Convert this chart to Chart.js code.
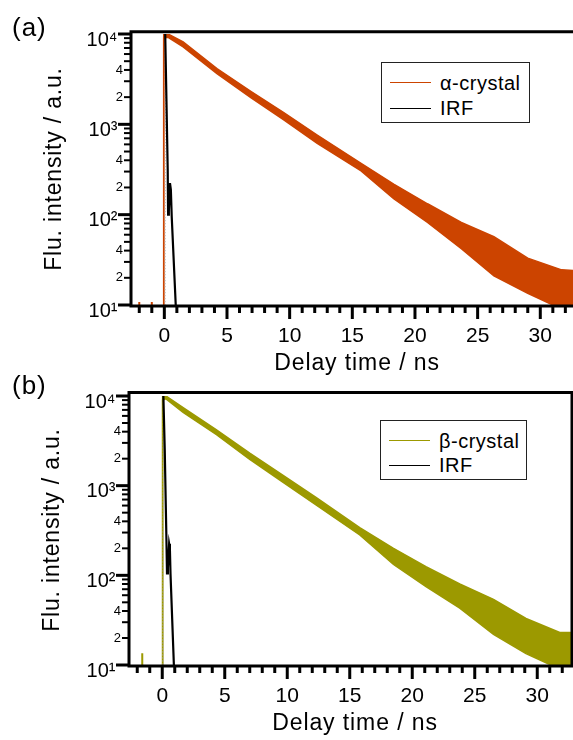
<!DOCTYPE html>
<html>
<head>
<meta charset="utf-8">
<script src="https://cdn.jsdelivr.net/npm/chart.js@4.4.0/dist/chart.umd.min.js"></script>
<style>
  body { margin: 0; background: #fff; }
  #wrap { position: relative; width: 573px; height: 740px; overflow: hidden;
          font-family: 'Liberation Sans', Arial, sans-serif; color: #000; }
  canvas { position: absolute; left: 0; }
  .txt { position: absolute; white-space: nowrap; line-height: 1; }
  .ytitle { font-size: 23px; letter-spacing: 0.8px; transform: translate(-50%, -50%) rotate(-90deg); }
  .xtitle { font-size: 23px; letter-spacing: 0.9px; transform: translateX(-50%); }
  .panel { font-size: 26px; letter-spacing: 1px; }
  .legend { position: absolute; box-sizing: border-box; border: 1px solid #222; background: #fff; }
  .legend .ln { position: absolute; left: 8px; width: 41px; height: 1.3px; }
  .legend .lt { position: absolute; left: 58px; font-size: 20px; letter-spacing: 0.5px; line-height: 20px; }
</style>
</head>
<body>
<div id="wrap">
  <canvas id="chartA" width="573" height="360" style="top:0px"></canvas>
  <canvas id="chartB" width="573" height="360" style="top:360px"></canvas>

  <div class="txt panel" style="left:12px; top:14px;">(a)</div>
  <div class="txt panel" style="left:12px; top:372px;">(b)</div>

  <div class="txt ytitle" style="left:53px; top:169px;">Flu. intensity / a.u.</div>
  <div class="txt ytitle" style="left:51px; top:530px;">Flu. intensity / a.u.</div>

  <div class="txt xtitle" style="left:357px; top:351px;">Delay time / ns</div>
  <div class="txt xtitle" style="left:355px; top:711px;">Delay time / ns</div>

  <div class="legend" style="left:381px; top:62px; width:149px; height:61px;">
    <div class="ln" style="top:19px; background:#cc4400;"></div>
    <div class="lt" style="top:10px;">&alpha;-crystal</div>
    <div class="ln" style="top:45px; background:#000;"></div>
    <div class="lt" style="top:35px;">IRF</div>
  </div>
  <div class="legend" style="left:380px; top:420px; width:147px; height:60px;">
    <div class="ln" style="top:19px; background:#9c9900;"></div>
    <div class="lt" style="top:10px;">&beta;-crystal</div>
    <div class="ln" style="top:44px; background:#000;"></div>
    <div class="lt" style="top:34px;">IRF</div>
  </div>
</div>

<script>
// axis ticks
const xTickValues = [-2, -1, 0, 1, 2, 3, 4, 5, 6, 7, 8, 9, 10, 11, 12, 13, 14, 15, 16,
                     17, 18, 19, 20, 21, 22, 23, 24, 25, 26, 27, 28, 29, 30, 31, 32];
const xTickLabels = [0, 5, 10, 15, 20, 25, 30];
const yDecades = [10, 100, 1000, 10000];
const yMinorLabels = [2, 4];

// alpha-crystal decay: upper / lower edge of the noisy trace
const alphaTime  = [-2.66, -0.10, -0.05, 0.3, 1.5, 4.2, 6.9, 9.5, 12.2, 15.7, 18.3, 21.0, 23.7, 26.3, 29.0, 31.7, 32.7];
const alphaUpper = [5, 5, 9900, 10000, 8200, 4150, 2320, 1360, 760, 370, 218, 132, 82, 57, 33, 24.5, 24];
const alphaLower = [5, 5, 9000, 9200, 7200, 3650, 1980, 1130, 615, 305, 150, 82, 42, 21, 13.5, 9, 9];
const alphaSpikeTime  = [-2.0, -1.0];
const alphaSpikeValue = [10.8, 10.8];

// IRF in panel (a)
const irfATime  = [-2.66, 0.05, 0.07, 0.14, 0.27, 0.30, 0.36, 0.45, 0.52, 0.59, 0.91, 1.0];
const irfAValue = [1, 1, 10000, 3000, 310, 100, 110, 224, 190, 95, 10, 1];

// beta-crystal decay, panel (b)
const betaTime  = [-2.66, -0.02, 0.03, 0.3, 1.67, 4.34, 7.0, 9.67, 12.3, 15.8, 18.5, 21.1, 23.8, 26.5, 29.1, 31.8, 32.8];
const betaUpper = [5, 5, 9900, 10000, 7400, 4200, 2300, 1300, 740, 340, 200, 125, 80, 54, 33, 23, 23];
const betaLower = [5, 5, 9000, 9300, 6550, 3700, 1960, 1090, 610, 282, 132, 75, 43, 22, 13.4, 9, 9];
const betaSpikeTime  = [-1.6];
const betaSpikeValue = [13.5];

// IRF in panel (b)
const irfBTime  = [-2.66, 0.05, 0.09, 0.20, 0.34, 0.38, 0.45, 0.55, 0.61, 0.66, 0.93, 1.0];
const irfBValue = [1, 1, 10000, 2500, 225, 105, 120, 225, 200, 105, 10, 1];

const SUP = {1: '\u00B9', 2: '\u00B2', 3: '\u00B3', 4: '\u2074'};

Chart.defaults.font.family = "'Liberation Sans', Arial, sans-serif";
Chart.defaults.color = '#000';

function pairs(times, values) {
  return times.map((t, i) => ({x: t, y: values[i]}));
}
function stems(times, values) {
  const pts = [];
  times.forEach((t, i) => pts.push({x: t, y: 1}, {x: t, y: values[i]}, {x: t, y: 1}));
  return pts;
}
function isDecade(v) {
  const l = Math.log10(v);
  return Math.abs(l - Math.round(l)) < 1e-6;
}

const yTickValues = [];
yDecades.forEach((d, i) => {
  for (let m = 1; m <= (i === yDecades.length - 1 ? 1 : 9); m++) yTickValues.push(d * m);
});

// draws axis lines, tick marks and frame (long ticks at majors, short at minors)
const frame = {
  id: 'frame',
  afterDraw(chart, args, opts) {
    const {ctx, chartArea: a, scales: {x, y}} = chart;
    const base = a.bottom + 1;
    ctx.save();
    ctx.strokeStyle = '#000';
    ctx.lineCap = 'butt';
    ctx.lineWidth = 3;
    x.ticks.forEach(t => {
      const px = x.getPixelForValue(t.value);
      ctx.beginPath();
      ctx.moveTo(px, base);
      ctx.lineTo(px, base + (t.value % 5 === 0 ? 13 : 7));
      ctx.stroke();
    });
    y.ticks.forEach(t => {
      const py = y.getPixelForValue(t.value);
      const major = isDecade(t.value);
      ctx.lineWidth = major ? 3 : 2;
      ctx.beginPath();
      ctx.moveTo(a.left, py);
      ctx.lineTo(a.left - (major ? 13 : 7), py);
      ctx.stroke();
    });
    ctx.lineWidth = 3;
    ctx.beginPath();
    ctx.moveTo(a.left, opts.topY - 1.5);
    ctx.lineTo(a.left, base + 1.5);
    ctx.moveTo(a.left - 1.5, base);
    ctx.lineTo(opts.rightBorder ? a.right + 1.5 : chart.width, base);
    ctx.moveTo(a.left - 1.5, opts.topY);
    ctx.lineTo(opts.rightBorder ? a.right + 1.5 : chart.width, opts.topY);
    if (opts.rightBorder) {
      ctx.moveTo(a.right, opts.topY);
      ctx.lineTo(a.right, base);
    }
    ctx.stroke();
    ctx.restore();
  }
};

// the IRF's rising edge shows up as a faint grey dotted line
const irfRise = c => c.p1DataIndex === 2;

function makePanel(id, p) {
  return new Chart(document.getElementById(id), {
    type: 'line',
    data: {
      datasets: [
        { data: pairs(p.irfTime, p.irfValue), borderColor: '#000', borderWidth: 2.2,
          segment: {
            borderColor: c => irfRise(c) ? '#aaa' : undefined,
            borderDash: c => irfRise(c) ? [1.5, 1.5] : undefined,
            borderWidth: c => irfRise(c) ? 1 : undefined
          } },
        { data: pairs(p.time, p.upper), borderColor: p.color, borderWidth: 1.5 },
        { data: pairs(p.time, p.lower), borderColor: p.color, borderWidth: 1.5,
          fill: 1, backgroundColor: p.color },
        { data: stems(p.spikeTime, p.spikeValue), borderColor: p.color, borderWidth: 2 }
      ]
    },
    options: {
      responsive: false,
      animation: false,
      events: [],
      elements: { point: { radius: 0 }, line: { tension: 0 } },
      layout: { padding: { top: p.top, right: 573 - p.right, left: 0, bottom: 0 } },
      plugins: { legend: { display: false }, tooltip: { enabled: false },
                 frame: { topY: p.topY, rightBorder: p.rightBorder } },
      scales: {
        x: {
          type: 'linear', min: -2.66, max: p.xMax,
          afterBuildTicks: s => { s.ticks = xTickValues.map(v => ({value: v})); },
          afterFit: s => { s.height = 360 - p.bottom; },
          grid: { display: false, drawTicks: true, tickLength: 13 },
          border: { display: false },
          ticks: {
            autoSkip: false, maxRotation: 0, padding: 6, font: { size: 21 },
            callback: v => xTickLabels.includes(v) ? String(v) : ''
          }
        },
        y: {
          type: 'logarithmic', min: 10, max: 10000,
          afterBuildTicks: s => { s.ticks = yTickValues.map(v => ({value: v})); },
          afterFit: s => { s.width = p.left; },
          grid: { display: false, drawTicks: true, tickLength: 7 },
          border: { display: false },
          ticks: {
            autoSkip: false, padding: 1,
            font: c => isDecade(c.tick.value) ? { size: 20, lineHeight: 0.6 } : { size: 13 },
            callback: v => {
              if (isDecade(v)) return ['', '10' + SUP[Math.round(Math.log10(v))] + ' '];
              const m = Math.round(v / Math.pow(10, Math.floor(Math.log10(v) + 1e-9)));
              return yMinorLabels.includes(m) ? String(m) : '';
            }
          }
        }
      }
    },
    plugins: [frame]
  });
}

makePanel('chartA', {
  time: alphaTime, upper: alphaUpper, lower: alphaLower, color: '#cc4400',
  spikeTime: alphaSpikeTime, spikeValue: alphaSpikeValue,
  irfTime: irfATime, irfValue: irfAValue,
  top: 34, bottom: 305, left: 131, right: 573, xMax: 32.61, topY: 31.7, rightBorder: false
});
makePanel('chartB', {
  time: betaTime, upper: betaUpper, lower: betaLower, color: '#9c9900',
  spikeTime: betaSpikeTime, spikeValue: betaSpikeValue,
  irfTime: irfBTime, irfValue: irfBValue,
  top: 36, bottom: 305, left: 129, right: 572, xMax: 32.78, topY: 32.5, rightBorder: true
});
</script>
</body>
</html>
